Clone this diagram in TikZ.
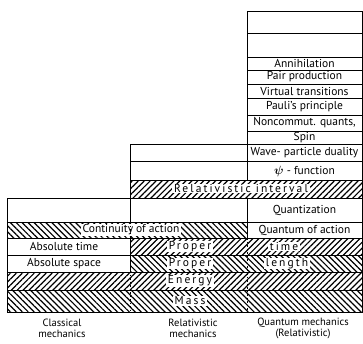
\documentclass[tikz,border=0pt]{standalone}
\usepackage{fontspec}
\usepackage{bm}
\setmainfont{PT Sans}
\newfontfamily\spacedfont[LetterSpace=18]{PT Sans}
\usetikzlibrary{patterns.meta}
\definecolor{inkcolor}{RGB}{0,0,0}
\tikzset{
    cell/.style={
        rectangle,
        anchor=north west,
        inner sep=0pt,
        draw=inkcolor,
        line width=1.1pt
    },
    ccell/.style={cell, minimum width=123pt},
    rcell/.style={cell, minimum width=117pt},
    qcell/.style={cell, minimum width=115pt},
    rqcell/.style={cell, minimum width=232pt},
    fullcell/.style={cell, minimum width=355pt},
    hatchup/.style={pattern={Lines[angle=45,distance=4.2pt,line width=1.2pt]}},
    hatchdown/.style={pattern={Lines[angle=-45,distance=4.2pt,line width=1.2pt]}},
    txt/.style={font=\fontsize{11.5}{12}\selectfont, inner sep=0.5pt},
    spaced/.style={txt, font=\fontsize{11.5}{12}\selectfont\spacedfont},
    onhatch/.style={fill=white, inner xsep=2pt, inner ysep=0.5pt},
    divider/.style={draw=inkcolor, line width=0.8pt, dash pattern=on 1.5pt off 2pt}
}
\begin{document}
\begin{tikzpicture}[x=1pt, y=-1pt]
    \useasboundingbox (0,0) rectangle (363,343);

    % Quantum column
    \node[qcell, minimum height=22.5pt] (qtop) at (247,10.5) {};
    \node[qcell, minimum height=24pt] (qsecond) at (247,33) {};
    \node[qcell, minimum height=13pt] (annih) at (247,57) {};
    \node[qcell, minimum height=14pt] (pairprod) at (247,70) {};
    \node[qcell, minimum height=14pt] (virtual) at (247,84) {};
    \node[qcell, minimum height=17pt] (pauli) at (247,98) {};
    \node[qcell, minimum height=16pt] (noncomm) at (247,115) {};
    \node[qcell, minimum height=12.5pt] (spin) at (247,131) {};
    \node[qcell, minimum height=17.5pt] (duality) at (247,143.5) {};
    \node[qcell, minimum height=19pt] (psifunc) at (247,161) {};
    \node[txt] (annihtxt) at (304.5,63.5) {Annihilation};
    \node[txt] (pairtxt) at (304.5,77) {Pair production};
    \node[txt] (virtualtxt) at (304.5,91) {Virtual transitions};
    \node[txt] (paulitxt) at (304.5,106.5) {Pauli's principle};
    \node[txt] (noncommtxt) at (304.5,123) {Noncommut. quants,};
    \node[txt] (spintxt) at (304.5,137.5) {Spin};
    \node[txt] (dualitytxt) at (304.5,152.5) {Wave- particle duality};
    \node[txt] (psitxt) at (304.5,171) {$\bm{\psi}$ - function};

    % Relativistic column
    \node[rcell, minimum height=17.5pt] (rtop) at (130,143.5) {};
    \node[rcell, minimum height=19pt] (rsecond) at (130,161) {};
    \node[rqcell, hatchup, minimum height=17.5pt] (interval) at (130,180) {};
    \node[spaced, onhatch] (intervaltxt) at (241,188.5) {Relativistic interval};

    % Common rows
    \node[ccell, minimum height=24.5pt] (ctop) at (7,197.5) {};
    \node[rcell, minimum height=24.5pt] (rblank) at (130,197.5) {};
    \node[qcell, minimum height=24.5pt] (quantiz) at (247,197.5) {};
    \node[txt] (quantiztxt) at (304.5,210) {Quantization};

    \node[cell, hatchdown, minimum width=240pt, minimum height=16pt] (continuity) at (7,222) {};
    \node[qcell, minimum height=16pt] (quantum) at (247,222) {};
    \node[txt, onhatch] (continuitytxt) at (131,230) {Continuity of action};
    \node[txt] (quantumtxt) at (304.5,230) {Quantum of action};

    \node[ccell, minimum height=17pt] (abstime) at (7,238) {};
    \node[rqcell, hatchup, minimum height=17pt] (proptime) at (130,238) {};
    \node[txt] (abstimetxt) at (64,246.5) {Absolute time};
    \node[spaced, onhatch] (propertxta) at (190,246.5) {Proper};
    \node[spaced, onhatch] (timetxt) at (284,246.5) {time};

    \node[ccell, minimum height=17pt] (absspace) at (7,255) {};
    \node[rqcell, hatchdown, minimum height=17pt] (proplength) at (130,255) {};
    \node[txt] (absspacetxt) at (64,263.5) {Absolute space};
    \node[spaced, onhatch] (propertxtb) at (190,263.5) {Proper};
    \node[spaced, onhatch] (lengthtxt) at (287,263.5) {length};

    \node[fullcell, hatchup, minimum height=18pt] (energy) at (7,272) {};
    \node[spaced, onhatch] (energytxt) at (190,281) {Energy};
    \node[fullcell, hatchdown, minimum height=22pt] (mass) at (7,290) {};
    \node[spaced, onhatch] (masstxt) at (190,301) {Mass};

    % Column borders in the hatched rows
    \coordinate (splitatop) at (130,222);
    \coordinate (splitabot) at (130,312);
    \coordinate (splitbtop) at (247,238);
    \coordinate (splitbbot) at (247,312);
    \draw[divider] (splitatop) -- (splitabot);
    \draw[divider] (splitbtop) -- (splitbbot);

    % Column titles
    \node[txt, font=\fontsize{10.5}{11}\selectfont, align=center] (classical) at (62,328.5) {Classical\\mechanics};
    \node[txt, font=\fontsize{10.5}{11}\selectfont, align=center] (relativistic) at (193,328.5) {Relativistic\\mechanics};
    \node[txt, font=\fontsize{10.5}{11}\selectfont, align=center] (quantummech) at (303,328.5) {Quantum mechanics\\(Relativistic)};
\end{tikzpicture}
\end{document}
